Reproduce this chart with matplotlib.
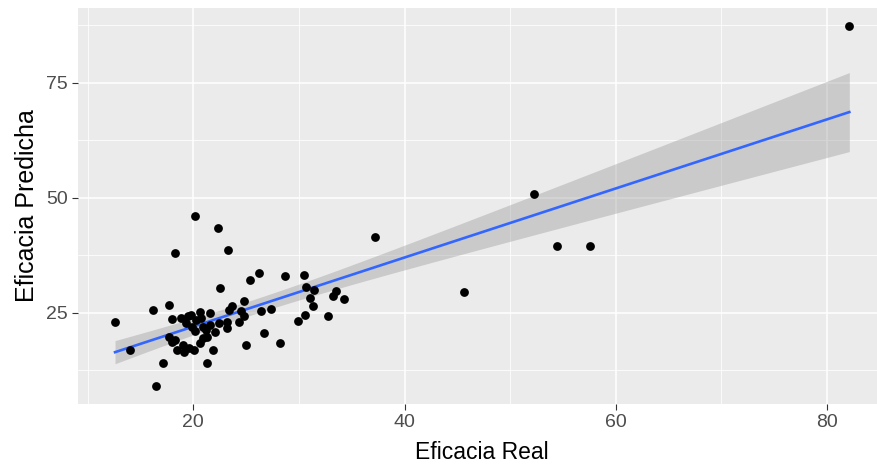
import numpy as np
import matplotlib
matplotlib.use('Agg')
import matplotlib.pyplot as plt
from matplotlib.ticker import MultipleLocator

plt.rcParams['font.family'] = ['Liberation Sans', 'DejaVu Sans']

# datos
eficacia_real = [82.1, 52.3, 54.4, 57.6, 45.6, 37.2,
                 20.2, 22.3, 18.3, 23.3,
                 26.2, 25.4, 28.7, 30.5, 22.5,
                 30.7, 31.4, 31.1, 31.3, 30.6, 29.9, 32.8, 33.2, 33.5, 34.3,
                 26.4, 27.4, 24.8, 24.8, 24.3, 23.2, 23.7, 23.4, 24.5, 26.7,
                 25.0, 28.2, 21.9, 21.3, 17.1, 16.5, 14.05, 12.6, 16.2, 17.7,
                 18.0, 18.8, 19.8, 20.6, 20.3, 21.6, 19.3, 19.9, 20.9, 21.6,
                 22.4, 23.2, 22.1, 17.7, 18.3, 18.0, 19.0, 19.6, 20.1, 20.6,
                 21.3, 20.9, 18.5, 19.1, 19.5, 20.2, 21.2, 20.7]
eficacia_pred = [87.4, 50.8, 39.5, 39.5, 29.6, 41.5,
                 46.1, 43.5, 38.0, 38.7,
                 33.7, 32.2, 33.1, 33.3, 30.4,
                 30.7, 30.0, 28.2, 26.5, 24.6, 23.3, 24.2, 28.6, 29.8, 28.1,
                 25.4, 25.8, 27.5, 24.2, 22.9, 21.7, 26.4, 25.7, 25.3, 20.6,
                 18.0, 18.5, 17.0, 14.1, 14.1, 9.2, 17.0, 23.1, 25.5, 26.6,
                 23.6, 23.8, 24.6, 25.1, 23.5, 24.9, 22.7, 22.0, 22.0, 22.4,
                 22.7, 23.1, 20.9, 19.8, 19.1, 18.7, 18.0, 17.3, 16.9, 18.4,
                 19.8, 19.5, 16.9, 16.5, 24.2, 21.0, 21.3, 23.8]

x = np.array(eficacia_real)
y = np.array(eficacia_pred)

# ajuste lineal + intervalo de confianza 95% (como geom_smooth(method='lm'))
n = len(x)
b1, b0 = np.polyfit(x, y, 1)
res = y - (b0 + b1 * x)
s = np.sqrt(np.sum(res**2) / (n - 2))
xs = np.linspace(x.min(), x.max(), 80)
ys = b0 + b1 * xs
se = s * np.sqrt(1/n + (xs - x.mean())**2 / np.sum((x - x.mean())**2))
t = 1.994
lo, hi = ys - t*se, ys + t*se

fig = plt.figure(figsize=(8.77, 4.72), dpi=100)
# el panel queda cortado por la derecha, como en la captura
ax = fig.add_axes([0.0893, 0.1451, 0.921, 0.8388])
ax.set_facecolor('#EBEBEB')

ax.fill_between(xs, lo, hi, color='#999999', alpha=0.4, lw=0, zorder=3)
ax.plot(xs, ys, color='#3366FF', lw=1.9, zorder=4)
ax.scatter(x, y, s=40, c='black', lw=0, zorder=5)

xr = x.max() - x.min()
yr = y.max() - y.min()
ax.set_xlim(x.min() - 0.05*xr, x.max() + 0.05*xr)
ax.set_ylim(y.min() - 0.05*yr, y.max() + 0.05*yr)

ax.xaxis.set_major_locator(MultipleLocator(20))
ax.xaxis.set_minor_locator(MultipleLocator(10))
ax.yaxis.set_major_locator(MultipleLocator(25))
ax.yaxis.set_minor_locator(MultipleLocator(12.5))
ax.grid(which='major', color='white', lw=1.1, zorder=0)
ax.grid(which='minor', color='white', lw=0.55, zorder=0)
ax.set_axisbelow(True)
for sp in ax.spines.values():
    sp.set_visible(False)
ax.tick_params(which='major', length=4.2, width=0.8, color='#333333',
               labelsize=14, labelcolor='#4D4D4D', pad=3.5)
ax.tick_params(which='minor', length=0)

ax.set_xlabel('Eficacia Real', fontsize=16.5, labelpad=7)
ax.set_ylabel('Eficacia Predicha', fontsize=18, labelpad=5)

fig.savefig('out.png', dpi=100)
